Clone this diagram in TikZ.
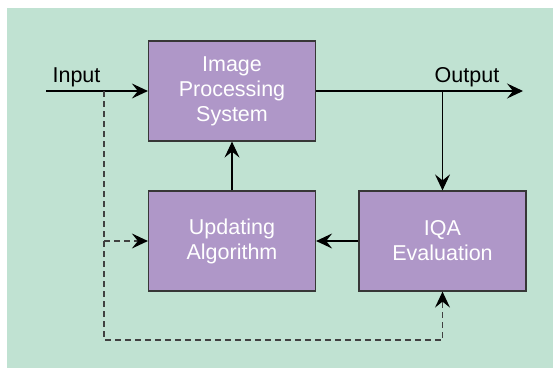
\documentclass[tikz,border=0pt]{standalone}
\usepackage{fontspec}
\setmainfont{Liberation Sans}
\usetikzlibrary{arrows.meta}
\definecolor{bggreen}{RGB}{192,226,210}
\definecolor{boxpurple}{RGB}{175,151,200}
\definecolor{edgegray}{RGB}{55,55,55}
\tikzset{
  block/.style={draw=edgegray, line width=1.2pt, fill=boxpurple, text=white,
    align=center, font=\fontsize{21.5}{25}\selectfont, inner sep=0pt,
    minimum width=167pt, minimum height=100pt},
  flow/.style={line width=1.2pt, -{Stealth[length=16pt,width=15pt,inset=6pt]}},
  feedback/.style={line width=1.2pt, dash pattern=on 6pt off 4pt, draw=black!75,
    -{Stealth[length=16pt,width=15pt,inset=6pt,color=black]}},
  lbl/.style={font=\fontsize{21.5}{25}\selectfont, anchor=base}
}
\begin{document}
\begin{tikzpicture}[x=1pt, y=-1pt]
    % Frame and background
    \useasboundingbox (0,0) rectangle (553,368);
    \fill[bggreen] (7,8) rectangle (553,368);

    % Blocks
    \node[block] (ips) at (232,91) {Image\\Processing\\System};
    \node[block] (upd) at (232,241) {Updating\\Algorithm};
    \node[block] (iqa) at (442.5,241) {IQA\\Evaluation};

    % Ends and branch points
    \coordinate (in) at (46,91);
    \coordinate (out) at (523,91);
    \coordinate (tap) at (104,91);
    \coordinate (low) at (104,340);

    % Labels
    \node[lbl] (inlbl) at (76.5,82) {Input};
    \node[lbl] (outlbl) at (467,82) {Output};

    % Main path
    \draw[flow] (in) -- (ips.west);
    \draw[flow] (ips.east) -- (out);
    \draw[flow] (iqa.north |- out) -- (iqa.north);
    \draw[flow] (iqa.west) -- (upd.east);
    \draw[flow] (upd.north) -- (ips.south);

    % Reference paths
    \draw[feedback] (tap) -- (low) -| (iqa.south);
    \draw[feedback] (tap |- upd.west) -- (upd.west);
\end{tikzpicture}
\end{document}
